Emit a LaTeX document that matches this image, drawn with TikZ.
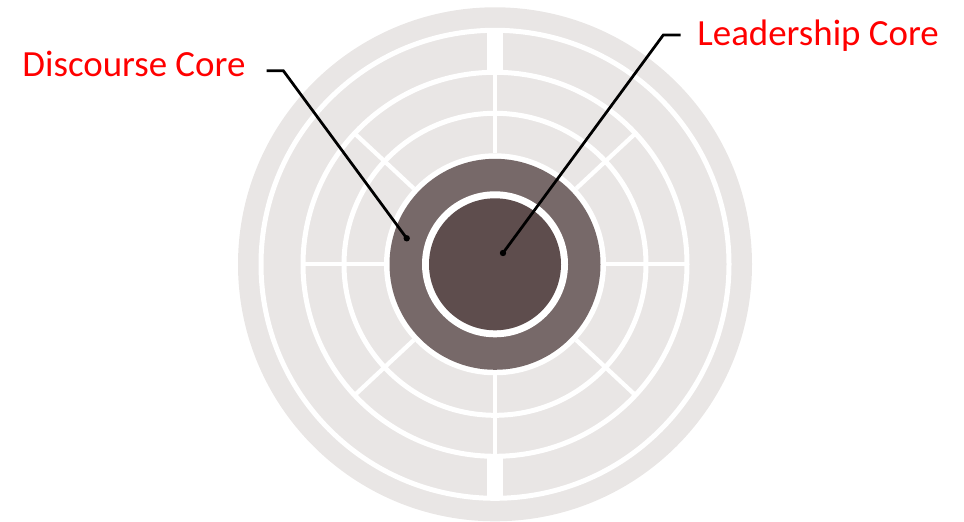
\documentclass[tikz,border=0pt]{standalone}
\usepackage{fontspec}
\setmainfont{Carlito}
\definecolor{ringgray}{HTML}{E9E6E5}
\definecolor{discbrown}{HTML}{776969}
\definecolor{leadbrown}{HTML}{5E4D4D}
\begin{document}
\begin{tikzpicture}[x=.02cm,y=.02cm,line width=.05cm,font=\fontsize{21}{25}\selectfont,
  ring/.style={draw=white,line width=.1cm},spoke/.style={white,line width=.085cm},
  label/.style={red,inner sep=0,anchor=base west},leader/.style={black,line width=.055cm}]
\useasboundingbox (0,0) rectangle (964,521);
\begin{scope}[shift={(495,256.7)}]
\fill[ringgray] (0,0) circle (257);
\draw[ring] (0,0) circle (234);\draw[ring] (0,0) circle (192);\draw[ring] (0,0) circle (151);
\draw[white,line width=.32cm] (90:192)--(90:234);\draw[white,line width=.32cm] (270:192)--(270:234);
\draw[spoke] (90:111)--(90:192);\draw[spoke] (270:111)--(270:192);
\draw[spoke] (0:111)--(0:192);\draw[spoke] (180:111)--(180:192);
\draw[spoke] (43:111)--(43:192);\draw[spoke] (137:111)--(137:192);
\draw[spoke] (223:111)--(223:192);\draw[spoke] (317:111)--(317:192);
\fill[white] (0,0) circle (111);\fill[discbrown] (0,0) circle (105.5);
\fill[white] (0,0) circle (73);\fill[leadbrown] (0,0) circle (66);
\end{scope}
\node[label] (disc) at (21.2,444.3) {Discourse Core};
\node[label] (lead) at (696.2,475) {Leadership Core};
\coordinate (ddot) at (406.7,282.7);\coordinate (dbend) at (283.3,450.3);\coordinate (dend) at (266.7,450.3);
\coordinate (ldot) at (503,268);\coordinate (lbend) at (663.3,486);\coordinate (lend) at (680.7,486);
\draw[leader] (dend)--(dbend)--(ddot);\draw[leader] (lend)--(lbend)--(ldot);
\fill (ddot) circle (3.2);\fill (ldot) circle (3.2);
\end{tikzpicture}
\end{document}
